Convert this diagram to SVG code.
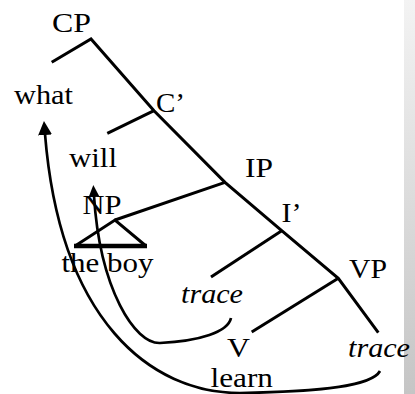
<svg xmlns="http://www.w3.org/2000/svg" width="415" height="394" viewBox="0 0 415 394">
<style>
  text { font-family: "Liberation Serif", "Times New Roman", serif; font-size: 28px; fill: #000; }
  .it { font-style: italic; }
  .edge { stroke: #000; stroke-width: 3; fill: none; stroke-linecap: butt; stroke-linejoin: miter; }
  .move { stroke: #000; stroke-width: 2.7; fill: none; }
</style>
<defs>
  <linearGradient id="strip" x1="0" y1="0" x2="0" y2="1">
    <stop offset="0" stop-color="#f3f3f3"/>
    <stop offset="1" stop-color="#c5c5c5"/>
  </linearGradient>
  <marker id="arrowBig" markerUnits="userSpaceOnUse" markerWidth="16" markerHeight="16" viewBox="0 0 16 16" refX="1" refY="8" orient="auto">
    <path d="M0,1 L14,8 L0,15 Z" fill="#000"/>
  </marker>
  <marker id="arrowSmall" markerUnits="userSpaceOnUse" markerWidth="14" markerHeight="14" viewBox="0 0 14 14" refX="1" refY="7" orient="auto">
    <path d="M0,1.5 L12,7 L0,12.5 Z" fill="#000"/>
  </marker>
</defs>

<rect x="0" y="0" width="415" height="394" fill="#fff"/>
<rect x="404" y="0" width="11" height="394" fill="url(#strip)"/>

<g id="connectors">
  <polyline class="edge" points="51.7,62.3 91,39 154,110.7 225,182.3 281.7,230.7 338.3,278.3 378.3,332.7"/>
  <line class="edge" x1="154" y1="110.7" x2="107.3" y2="133.3"/>
  <line class="edge" x1="225" y1="182.3" x2="115" y2="220"/>
  <line class="edge" x1="281.7" y1="230.7" x2="211" y2="277"/>
  <line class="edge" x1="338.3" y1="278.3" x2="251.7" y2="332"/>
  <g id="triangle">
    <polyline class="edge" points="75,246 115,220 146,246"/>
    <line x1="74" y1="246" x2="147" y2="246" stroke="#000" stroke-width="4.5"/>
  </g>
  <path class="move" d="M380,371 C372,386 320,392 240,393 C150,393 60,320 45,134" marker-end="url(#arrowBig)"/>
  <path class="move" d="M231,318 C228,332 200,341 160,343 C135,344 100,290 94,196" marker-end="url(#arrowSmall)"/>
</g>

<g id="CP"><text x="52" y="31.5" textLength="39" lengthAdjust="spacingAndGlyphs">CP</text></g>
<g id="what"><text x="14" y="104" textLength="59" lengthAdjust="spacingAndGlyphs">what</text></g>
<g id="Cbar"><text x="156" y="111.5" textLength="29" lengthAdjust="spacingAndGlyphs">C’</text></g>
<g id="will"><text x="69" y="166.5" textLength="48" lengthAdjust="spacingAndGlyphs">will</text></g>
<g id="IP"><text x="245" y="176.5" textLength="28" lengthAdjust="spacingAndGlyphs">IP</text></g>
<g id="NP"><text x="82.5" y="214" textLength="39" lengthAdjust="spacingAndGlyphs">NP</text></g>
<g id="theboy"><text x="61.5" y="271.5" textLength="92" lengthAdjust="spacingAndGlyphs">the boy</text></g>
<g id="Ibar"><text x="281.5" y="222" textLength="20" lengthAdjust="spacingAndGlyphs">I’</text></g>
<g id="trace1"><text class="it" x="181" y="303" textLength="62" lengthAdjust="spacingAndGlyphs">trace</text></g>
<g id="VP"><text x="349" y="278" textLength="38" lengthAdjust="spacingAndGlyphs">VP</text></g>
<g id="V"><text x="227" y="357" textLength="23" lengthAdjust="spacingAndGlyphs">V</text></g>
<g id="trace2"><text class="it" x="348" y="356.5" textLength="62" lengthAdjust="spacingAndGlyphs">trace</text></g>
<g id="learn"><text x="210.5" y="386.5" textLength="62.5" lengthAdjust="spacingAndGlyphs">learn</text></g>
</svg>
